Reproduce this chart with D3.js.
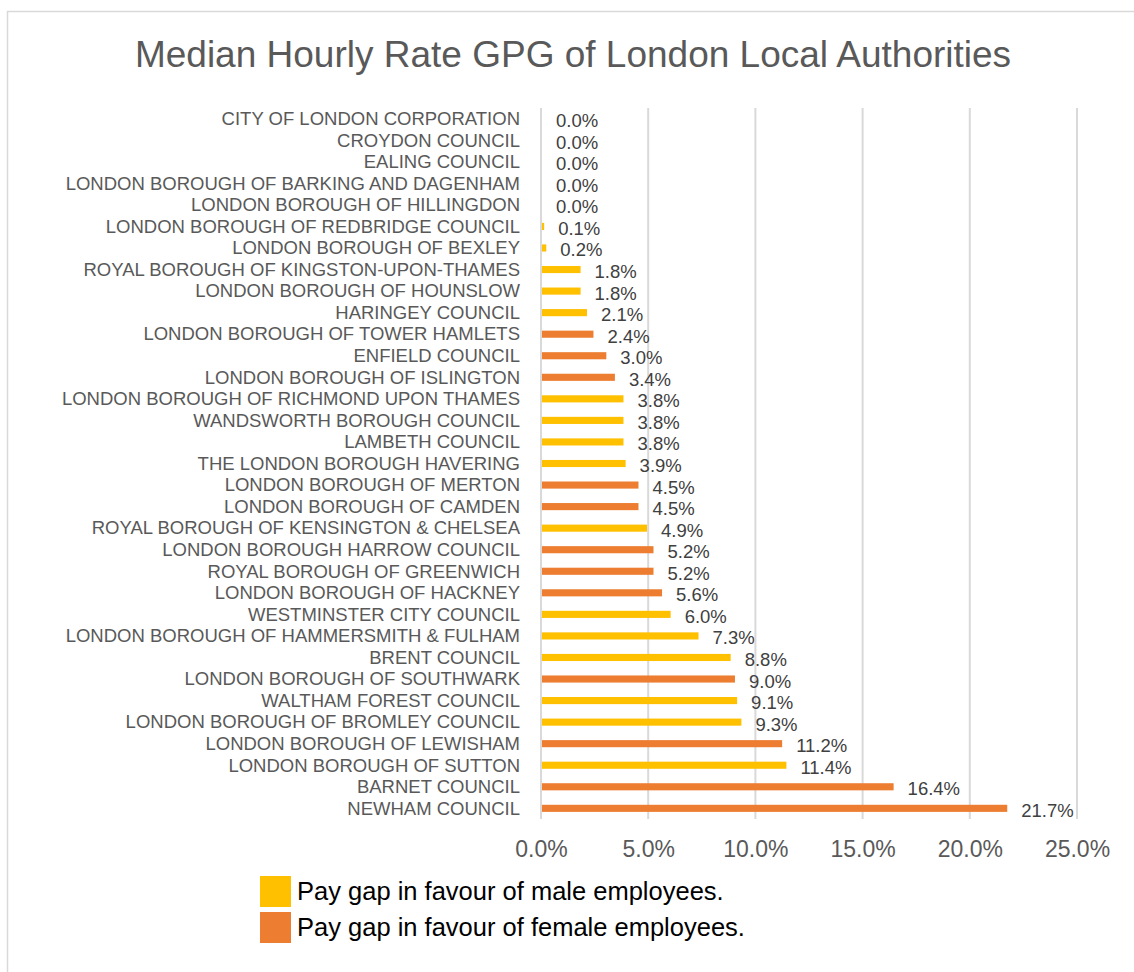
<!DOCTYPE html>
<html>
<head>
<meta charset="utf-8">
<script src="https://cdn.jsdelivr.net/npm/d3@7"></script>
<style>
  body { margin: 0; background: #fff; }
  text { font-family: "Liberation Sans", Arial, sans-serif; }
</style>
</head>
<body>
<div id="chart"></div>
<script>
// chart data, top to bottom
const authorities = [
  "CITY OF LONDON CORPORATION", "CROYDON COUNCIL", "EALING COUNCIL",
  "LONDON BOROUGH OF BARKING AND DAGENHAM", "LONDON BOROUGH OF HILLINGDON",
  "LONDON BOROUGH OF REDBRIDGE COUNCIL", "LONDON BOROUGH OF BEXLEY",
  "ROYAL BOROUGH OF KINGSTON-UPON-THAMES", "LONDON BOROUGH OF HOUNSLOW",
  "HARINGEY COUNCIL", "LONDON BOROUGH OF TOWER HAMLETS", "ENFIELD COUNCIL",
  "LONDON BOROUGH OF ISLINGTON", "LONDON BOROUGH OF RICHMOND UPON THAMES",
  "WANDSWORTH BOROUGH COUNCIL", "LAMBETH COUNCIL", "THE LONDON BOROUGH HAVERING",
  "LONDON BOROUGH OF MERTON", "LONDON BOROUGH OF CAMDEN",
  "ROYAL BOROUGH OF KENSINGTON & CHELSEA", "LONDON BOROUGH HARROW COUNCIL",
  "ROYAL BOROUGH OF GREENWICH", "LONDON BOROUGH OF HACKNEY",
  "WESTMINSTER CITY COUNCIL", "LONDON BOROUGH OF HAMMERSMITH & FULHAM",
  "BRENT COUNCIL", "LONDON BOROUGH OF SOUTHWARK", "WALTHAM FOREST COUNCIL",
  "LONDON BOROUGH OF BROMLEY COUNCIL", "LONDON BOROUGH OF LEWISHAM",
  "LONDON BOROUGH OF SUTTON", "BARNET COUNCIL", "NEWHAM COUNCIL"
];
const gapValues = [
  0.0, 0.0, 0.0, 0.0, 0.0, 0.1, 0.2, 1.8, 1.8, 2.1, 2.4, 3.0, 3.4, 3.8, 3.8, 3.8, 3.9,
  4.5, 4.5, 4.9, 5.2, 5.2, 5.6, 6.0, 7.3, 8.8, 9.0, 9.1, 9.3, 11.2, 11.4, 16.4, 21.7
];
// "M" = in favour of male employees, "F" = in favour of female employees
const favour = [
  "M", "M", "M", "M", "M", "M", "M", "M", "M", "M", "F", "F", "F", "M", "M", "M", "M",
  "F", "F", "M", "F", "F", "F", "M", "M", "M", "F", "M", "M", "F", "M", "F", "F"
];
const xTicks = [0, 5, 10, 15, 20, 25];
const legendLabels = ["Pay gap in favour of male employees.", "Pay gap in favour of female employees."];

const width = 1134;
const height = 972;
const colors = { M: "#FFC000", F: "#ED7D31" };

const data = authorities.map((name, i) => ({ name: name, value: gapValues[i], side: favour[i] }));

const svg = d3.select("#chart").append("svg")
  .attr("width", width)
  .attr("height", height);

// chart area border
svg.append("rect")
  .attr("x", 7.5).attr("y", 11.5)
  .attr("width", 1140).attr("height", 975)
  .attr("fill", "#fff")
  .attr("stroke", "#d9d9d9")
  .attr("stroke-width", 1.5);

// title
svg.append("text")
  .attr("x", 573).attr("y", 67)
  .attr("text-anchor", "middle")
  .attr("font-size", "37px")
  .attr("fill", "#595959")
  .text("Median Hourly Rate GPG of London Local Authorities");

const xScale = d3.scaleLinear().domain([0, 25]).range([541, 1077]);
const yScale = d3.scaleBand()
  .domain(authorities)
  .range([108, 819])
  .paddingInner(0.67)
  .paddingOuter(0.33);

// gridlines
svg.append("g")
  .selectAll("line")
  .data(xTicks)
  .join("line")
  .attr("x1", (d) => xScale(d)).attr("x2", (d) => xScale(d))
  .attr("y1", 108).attr("y2", 819)
  .attr("stroke", "#d9d9d9")
  .attr("stroke-width", 2);

// bars
svg.append("g")
  .selectAll("rect")
  .data(data.filter((d) => d.value > 0))
  .join("rect")
  .attr("x", xScale(0) + 1)
  .attr("y", (d) => yScale(d.name))
  .attr("width", (d) => xScale(d.value) - xScale(0))
  .attr("height", yScale.bandwidth())
  .attr("fill", (d) => colors[d.side]);

// value labels
svg.append("g")
  .selectAll("text")
  .data(data)
  .join("text")
  .attr("x", (d) => xScale(d.value) + 15)
  .attr("y", (d) => yScale(d.name) + yScale.bandwidth() / 2 + 8.5)
  .attr("font-size", "18.5px")
  .attr("fill", "#404040")
  .text((d) => d.value.toFixed(1) + "%");

// category axis labels
const yAxis = svg.append("g")
  .attr("transform", "translate(541,0)")
  .call(d3.axisLeft(yScale).tickSize(0).tickPadding(21));
yAxis.select(".domain").remove();
yAxis.selectAll("text")
  .attr("font-family", "Liberation Sans, Arial, sans-serif")
  .attr("font-size", "18.5px")
  .attr("fill", "#595959")
  .attr("dy", "0.34em");

// value axis labels
const xAxis = svg.append("g")
  .attr("transform", "translate(0,838)")
  .call(d3.axisBottom(xScale).tickValues(xTicks).tickSize(0).tickFormat((d) => d.toFixed(1) + "%"));
xAxis.select(".domain").remove();
xAxis.selectAll("text")
  .attr("font-family", "Liberation Sans, Arial, sans-serif")
  .attr("font-size", "23px")
  .attr("fill", "#595959");

// legend
const legend = svg.append("g")
  .selectAll("g")
  .data(legendLabels)
  .join("g")
  .attr("transform", (d, i) => "translate(260," + (876 + i * 36) + ")");
legend.append("rect")
  .attr("width", 31).attr("height", 31)
  .attr("fill", (d, i) => (i === 0 ? colors.M : colors.F));
legend.append("text")
  .attr("x", 37).attr("y", 24)
  .attr("font-size", "25.5px")
  .attr("fill", "#000")
  .text((d) => d);
</script>
</body>
</html>
